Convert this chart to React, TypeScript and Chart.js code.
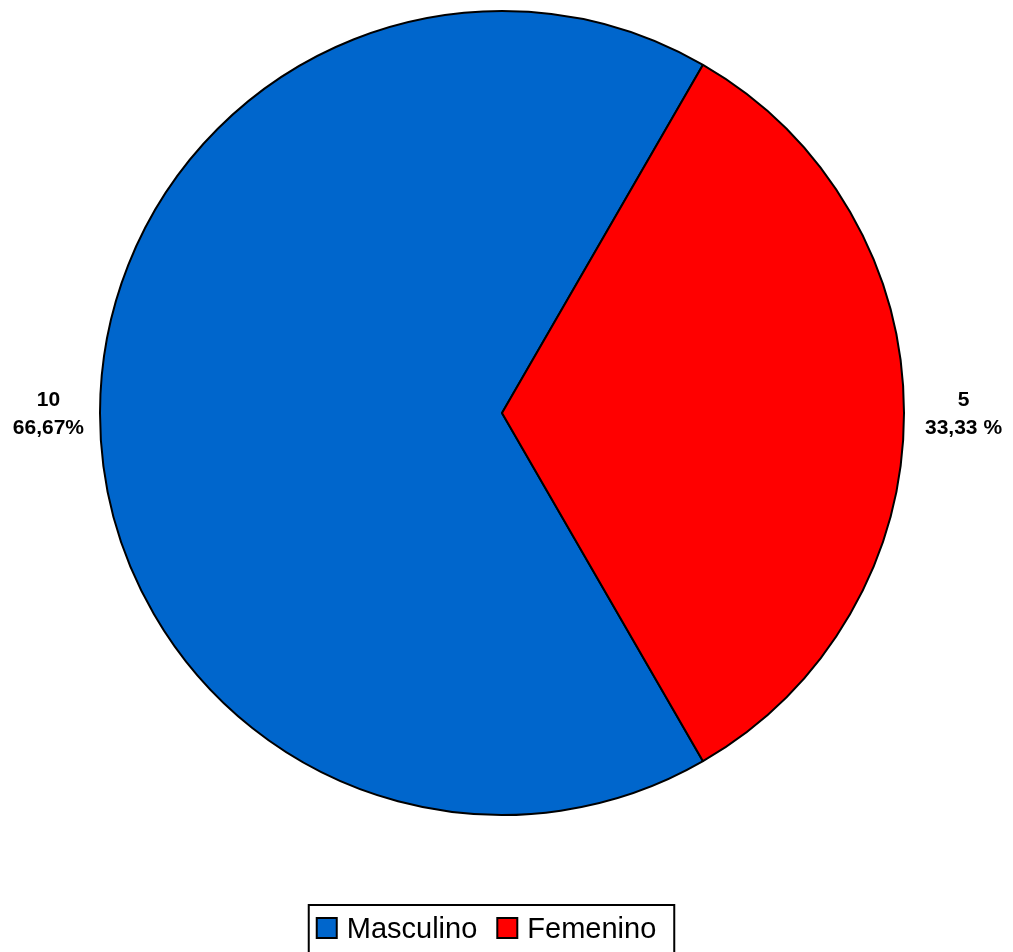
import React, { useEffect, useRef } from "react";
import { Chart, registerables } from "chart.js";

Chart.register(...registerables);

const categories = ["Masculino", "Femenino"];
const counts = [10, 5];
const percentLabels = ["66,67%", "33,33 %"];
const colors = ["#0066CC", "#FF0000"];

const W = 1013;
const H = 952;

const labelPlugin = {
  id: "sliceLabels",
  afterDatasetsDraw(chart: any) {
    const ctx = chart.ctx;
    const meta = chart.getDatasetMeta(0);
    ctx.save();
    ctx.font = "bold 21px 'Liberation Sans', Arial, sans-serif";
    ctx.fillStyle = "#000";
    ctx.textAlign = "center";
    ctx.textBaseline = "middle";
    meta.data.forEach((arc: any, i: number) => {
      const { x, y, startAngle, endAngle, outerRadius } = arc.getProps(
        ["x", "y", "startAngle", "endAngle", "outerRadius"],
        true
      );
      const mid = (startAngle + endAngle) / 2;
      const lines = [String(counts[i]), percentLabels[i]];
      const bw = Math.max(...lines.map((l) => ctx.measureText(l).width));
      const cos = Math.cos(mid);
      const sin = Math.sin(mid);
      const gap = cos >= 0 ? 21 : 16;
      const ex = x + cos * (outerRadius + gap);
      const ey = y + sin * (outerRadius + gap);
      const cxl = ex + (cos >= 0 ? bw / 2 : -bw / 2);
      const lh = 28;
      lines.forEach((l, k) => {
        ctx.fillText(l, cxl, ey + 1 + (k - (lines.length - 1) / 2) * lh);
      });
    });
    ctx.restore();
  },
};

const legendPlugin = {
  id: "boxLegend",
  afterDraw(chart: any) {
    const ctx = chart.ctx;
    ctx.save();
    ctx.font = "29px 'Liberation Sans', Arial, sans-serif";
    const sq = 20;
    const textGap = 10;
    const itemGap = 20;
    const widths = categories.map((c) => ctx.measureText(c).width);
    const contentW =
      widths.reduce((a, b) => a + b, 0) +
      categories.length * (sq + textGap) +
      itemGap * (categories.length - 1);
    const padL = 8;
    const padR = 18;
    const boxW = contentW + padL + padR;
    const boxL = 491.5 - boxW / 2;
    const boxT = 905;
    ctx.lineWidth = 2;
    ctx.strokeStyle = "#000";
    ctx.strokeRect(boxL, boxT, boxW, 60);
    let x = boxL + padL;
    const baseline = 938;
    categories.forEach((c, i) => {
      ctx.fillStyle = colors[i];
      ctx.fillRect(x, 918, sq, sq);
      ctx.strokeRect(x, 918, sq, sq);
      ctx.fillStyle = "#000";
      ctx.textAlign = "left";
      ctx.textBaseline = "alphabetic";
      ctx.fillText(c, x + sq + textGap, baseline);
      x += sq + textGap + widths[i] + itemGap;
    });
    ctx.restore();
  },
};

export default function App() {
  const ref = useRef<HTMLCanvasElement>(null);
  useEffect(() => {
    if (!ref.current) return;
    const chart = new Chart(ref.current, {
      type: "pie",
      data: {
        labels: categories,
        datasets: [
          {
            data: counts,
            backgroundColor: colors,
            borderColor: "#000000",
            borderWidth: 2,
          },
        ],
      },
      options: {
        responsive: false,
        animation: false,
        rotation: 150,
        layout: { padding: { left: 99, right: 108, top: 10, bottom: 136 } },
        plugins: {
          legend: { display: false },
          tooltip: { enabled: false },
        },
      },
      plugins: [labelPlugin, legendPlugin],
    });
    return () => chart.destroy();
  }, []);
  return (
    <div style={{ position: "absolute", left: 0, top: 0, width: W, height: H, background: "#fff" }}>
      <canvas ref={ref} width={W} height={H} style={{ width: W, height: H }} />
    </div>
  );
}
